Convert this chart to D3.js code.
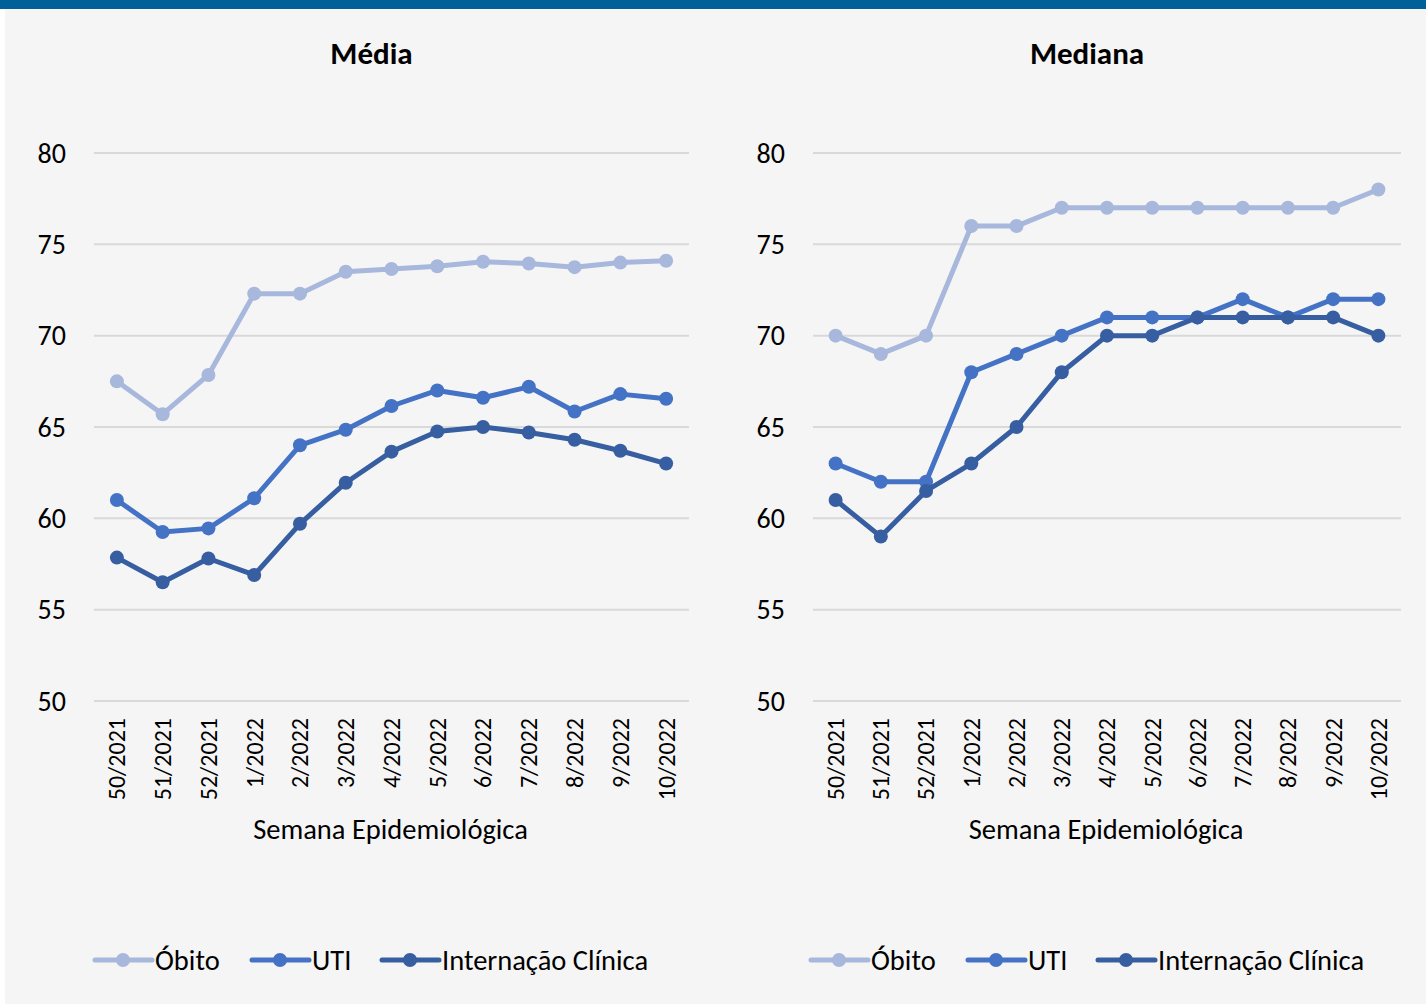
<!DOCTYPE html>
<html>
<head>
<meta charset="utf-8">
<script src="https://cdn.jsdelivr.net/npm/d3@7"></script>
<style>
  html, body { margin: 0; padding: 0; background: #ffffff; }
  svg { display: block; }
  text { font-family: Carlito, Lato, "Open Sans", sans-serif; fill: #000; }
</style>
</head>
<body>
<svg id="chart" width="1426" height="1004"></svg>
<script>
// Semanas epidemiológicas
const semanas = ["50/2021", "51/2021", "52/2021", "1/2022", "2/2022", "3/2022", "4/2022",
                 "5/2022", "6/2022", "7/2022", "8/2022", "9/2022", "10/2022"];

// Média (anos)
const mediaObito = [67.5, 65.7, 67.85, 72.3, 72.3, 73.5, 73.65, 73.8, 74.05, 73.95, 73.75, 74.0, 74.1];
const mediaUTI = [61.0, 59.25, 59.45, 61.1, 64.0, 64.85, 66.15, 67.0, 66.6, 67.2, 65.85, 66.8, 66.55];
const mediaInternacao = [57.85, 56.5, 57.8, 56.9, 59.7, 61.95, 63.65, 64.75, 65.0, 64.7, 64.3, 63.7, 63.0];

// Mediana (anos)
const medianaObito = [70, 69, 70, 76, 76, 77, 77, 77, 77, 77, 77, 77, 78];
const medianaUTI = [63, 62, 62, 68, 69, 70, 71, 71, 71, 72, 71, 72, 72];
const medianaInternacao = [61, 59, 61.5, 63, 65, 68, 70, 70, 71, 71, 71, 71, 70];

const yTicks = [50, 55, 60, 65, 70, 75, 80];
const seriesNames = ["Óbito", "UTI", "Internação Clínica"];
const seriesColors = ["#a8b7dc", "#4472c4", "#365ea1"];

const svg = d3.select("#chart");

// Faixa superior e fundo
svg.append("rect").attr("x", 5).attr("y", 0).attr("width", 1421).attr("height", 1004).attr("fill", "#f5f5f5");
svg.append("rect").attr("x", 0).attr("y", 0).attr("width", 1426).attr("height", 9).attr("fill", "#006098");

function drawPanel(offsetX, title, seriesData, xRange) {
  const g = svg.append("g");
  const x = d3.scalePoint().domain(semanas).range(xRange).padding(0.5);
  const y = d3.scaleLinear().domain([50, 80]).range([701, 153]);

  // título
  g.append("text")
    .attr("x", (xRange[0] + xRange[1]) / 2 - 20)
    .attr("y", 64)
    .attr("text-anchor", "middle")
    .attr("font-size", 31)
    .attr("font-weight", "bold")
    .text(title);

  // linhas de grade
  g.selectAll("line.grid").data(yTicks).enter().append("line")
    .attr("x1", xRange[0]).attr("x2", xRange[1])
    .attr("y1", d => y(d)).attr("y2", d => y(d))
    .attr("stroke", "#d9d9d9").attr("stroke-width", 2);

  // rótulos do eixo y
  g.selectAll("text.ytick").data(yTicks).enter().append("text")
    .attr("x", xRange[0] - 28)
    .attr("y", d => y(d))
    .attr("dy", "0.35em")
    .attr("text-anchor", "end")
    .attr("font-size", 28)
    .text(d => d);

  // rótulos do eixo x (rotacionados)
  g.selectAll("text.xtick").data(semanas).enter().append("text")
    .attr("transform", d => `translate(${x(d)},718) rotate(-90)`)
    .attr("dy", "0.35em")
    .attr("text-anchor", "end")
    .attr("font-size", 24)
    .text(d => d);

  // título do eixo x
  g.append("text")
    .attr("x", (xRange[0] + xRange[1]) / 2 - 1)
    .attr("y", 839)
    .attr("text-anchor", "middle")
    .attr("font-size", 28.5)
    .text("Semana Epidemiológica");

  // séries
  const line = d3.line().x((d, i) => x(semanas[i])).y(d => y(d));
  seriesData.forEach((vals, k) => {
    g.append("path")
      .datum(vals)
      .attr("d", line)
      .attr("fill", "none")
      .attr("stroke", seriesColors[k])
      .attr("stroke-width", 5)
      .attr("stroke-linejoin", "round");
    g.selectAll(null).data(vals).enter().append("circle")
      .attr("cx", (d, i) => x(semanas[i]))
      .attr("cy", d => y(d))
      .attr("r", 7)
      .attr("fill", seriesColors[k]);
  });

  // legenda
  const legendX = [offsetX + 95, offsetX + 252, offsetX + 382];
  seriesNames.forEach((name, k) => {
    const lx = legendX[k];
    const lg = g.append("g").attr("transform", `translate(${lx},960)`);
    lg.append("line").attr("x1", 0).attr("x2", 57).attr("y1", 0).attr("y2", 0)
      .attr("stroke", seriesColors[k]).attr("stroke-width", 5).attr("stroke-linecap", "round");
    lg.append("circle").attr("cx", 28).attr("cy", 0).attr("r", 7).attr("fill", seriesColors[k]);
    lg.append("text").attr("x", 60).attr("y", 0).attr("dy", "0.35em")
      .attr("font-size", 28.5).text(name);
  });
}

drawPanel(0, "Média", [mediaObito, mediaUTI, mediaInternacao], [94, 689]);
drawPanel(716, "Mediana", [medianaObito, medianaUTI, medianaInternacao], [813, 1401]);
</script>
</body>
</html>
